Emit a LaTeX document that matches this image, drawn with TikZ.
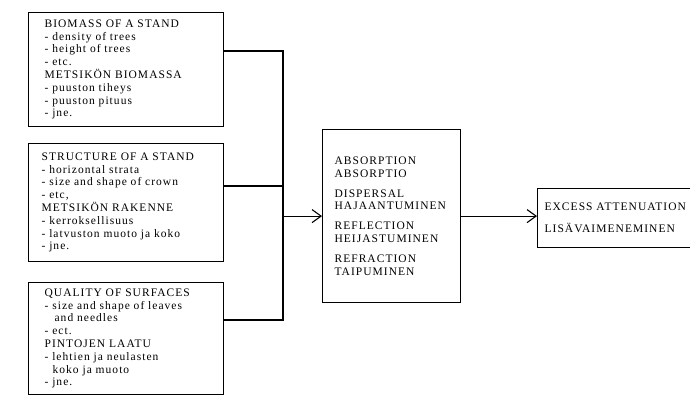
\documentclass[tikz,border=0pt]{standalone}
\usepackage{fontspec}
\setmainfont{Liberation Serif}[LetterSpace=9]
\usetikzlibrary{arrows.meta}

\tikzset{
  factor/.style={draw, line width=1.2pt, anchor=north west, align=left, inner ysep=0pt,
    font=\fontsize{11.5}{12.8}\selectfont},
  link/.style={line width=1.1pt},
  flow/.style={link, -{Straight Barb[length=9pt,width=13pt,line width=1.1pt]}}
}

\begin{document}
\begin{tikzpicture}[x=1pt,y=-1pt]
    \path[use as bounding box, clip] (0,0) rectangle (690,396);

    \node[factor, text width=163pt, inner xsep=16pt, minimum height=114pt] (biomass) at (28,12)
        {BIOMASS OF A STAND\\- density of trees\\- height of trees\\- etc.\\METSIKÖN BIOMASSA\\- puuston tiheys\\- puuston pituus\\- jne.};
    \node[factor, text width=169pt, inner xsep=13pt, minimum height=118pt] (structure) at (28,143)
        {STRUCTURE OF A STAND\\- horizontal strata\\- size and shape of crown\\- etc,\\METSIKÖN RAKENNE\\- kerroksellisuus\\- latvuston muoto ja koko\\- jne.};
    \node[factor, text width=163pt, inner xsep=16pt, minimum height=112pt] (quality) at (28,282)
        {QUALITY OF SURFACES\\- size and shape of leaves\\\hspace*{10pt}and needles\\- ect.\\PINTOJEN LAATU\\- lehtien ja neulasten\\\hspace*{8pt}koko ja muoto\\- jne.};

    \node[factor, text width=114pt, inner xsep=12pt, minimum height=173pt] (process) at (322,129)
        {ABSORPTION\\ABSORPTIO\\[7pt]DISPERSAL\\HAJAANTUMINEN\\[7pt]REFLECTION\\HEIJASTUMINEN\\[7pt]REFRACTION\\TAIPUMINEN};
    \node[factor, text width=156pt, inner xsep=7pt, minimum height=59pt] (excess) at (537,188)
        {EXCESS ATTENUATION\\[9pt]LISÄVAIMENEMINEN};

    \coordinate (top) at (283,51);
    \coordinate (mid) at (283,186);
    \coordinate (bottom) at (283,320);

    \draw[link] (biomass.east |- top) -- (top) -- (bottom) -- (quality.east |- bottom);
    \draw[link] (structure.east |- mid) -- (mid);
    \draw[flow] (process.west -| top) -- (process.west);
    \draw[flow] (process.east) -- (excess.west |- process.east);
\end{tikzpicture}
\end{document}
